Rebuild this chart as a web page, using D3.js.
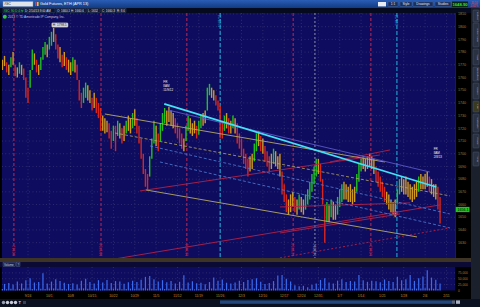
<!DOCTYPE html>
<html>
<head>
<meta charset="utf-8">
<script src="https://cdn.jsdelivr.net/npm/d3@7"></script>
<style>
html, body { margin: 0; padding: 0; background: #000; }
svg { display: block; font-family: "Liberation Sans", Arial, sans-serif; }
</style>
</head>
<body>
<div id="chart"></div>
<script>
// ---- data ----
// bars: two per trading day, first bar sits 6 trading days before 9/24
const barStartDay = -6;
const barStep = 0.5;
const hi = [
  1774,1777,1772,1770,1776,1780,1770,1768,1772,1770,
  1767,1760,1752,1766,1782,1779,1774,1770,1776,1784,
  1788,1786,1792,1796,1799,1794,1786,1784,1778,1780,
  1776,1774,1772,1776,1774,1770,1758,1748,1752,1756,
  1754,1750,1744,1748,1744,1740,1736,1730,1728,1726,
  1724,1718,1722,1722,1726,1724,1720,1722,1726,1730,
  1728,1732,1735,1728,1722,1712,1700,1688,1684,1698,
  1712,1726,1722,1716,1724,1732,1736,1734,1737,1734,
  1732,1728,1724,1720,1716,1712,1722,1730,1728,1724,
  1726,1722,1726,1730,1732,1734,1752,1755,1752,1750,
  1746,1742,1738,1726,1730,1732,1728,1726,1730,1728,
  1724,1716,1712,1704,1700,1696,1698,1700,1708,1716,
  1718,1714,1712,1706,1702,1698,1700,1704,1702,1698,
  1700,1686,1676,1668,1664,1668,1670,1666,1664,1668,
  1666,1664,1668,1672,1678,1684,1690,1696,1696,1692,
  1680,1660,1662,1660,1664,1662,1660,1666,1672,1676,
  1678,1676,1674,1676,1672,1674,1684,1692,1696,1698,
  1696,1698,1700,1698,1696,1690,1686,1682,1678,1674,
  1670,1668,1664,1662,1664,1672,1680,1682,1680,1682,
  1678,1676,1674,1676,1678,1682,1684,1682,1684,1686,
  1682,1680,1676,1676,1674,1666
];
const lo = [
  1766,1769,1764,1762,1768,1770,1761,1760,1763,1762,
  1758,1744,1740,1752,1766,1770,1764,1762,1766,1774,
  1778,1776,1782,1785,1788,1782,1775,1772,1768,1769,
  1766,1764,1762,1765,1764,1758,1742,1736,1740,1744,
  1742,1740,1734,1736,1732,1728,1718,1718,1716,1717,
  1712,1704,1710,1702,1714,1712,1708,1710,1716,1718,
  1716,1720,1722,1716,1708,1696,1684,1674,1671,1682,
  1696,1708,1706,1702,1710,1718,1724,1722,1725,1722,
  1720,1716,1712,1708,1704,1702,1710,1718,1716,1714,
  1716,1712,1715,1720,1722,1724,1734,1746,1744,1742,
  1738,1734,1712,1712,1718,1720,1716,1716,1720,1716,
  1708,1704,1698,1692,1688,1682,1686,1688,1694,1702,
  1706,1702,1700,1694,1690,1686,1688,1692,1690,1688,
  1682,1668,1662,1654,1652,1654,1658,1654,1652,1656,
  1654,1652,1656,1660,1664,1670,1676,1682,1684,1678,
  1660,1630,1646,1646,1650,1648,1648,1652,1658,1662,
  1664,1664,1662,1662,1660,1662,1670,1678,1686,1688,
  1686,1688,1690,1688,1684,1678,1674,1670,1666,1662,
  1660,1656,1654,1652,1650,1660,1668,1670,1668,1668,
  1666,1664,1662,1664,1666,1670,1672,1672,1672,1674,
  1670,1668,1666,1664,1656,1645
];
// volume per bar, thousands of contracts
const volume = [
  6,28,5,32,7,26,4,38,6,30,
  8,44,9,52,6,34,5,36,7,73,
  6,30,8,38,9,48,7,40,6,33,
  5,28,6,31,4,26,8,42,9,50,
  7,36,6,30,8,44,5,34,7,45,
  6,32,8,40,7,38,5,29,6,35,
  8,41,7,36,9,46,10,58,8,62,
  7,48,6,38,8,44,6,35,7,40,
  5,30,7,37,8,65,6,34,7,39,
  5,31,6,33,4,27,6,36,9,55,
  7,42,8,47,6,33,5,30,6,34,
  7,41,6,36,8,45,7,48,9,52,
  6,37,5,28,6,32,7,40,8,64,
  9,66,7,50,6,38,4,22,3,18,
  4,20,3,14,5,24,6,30,7,45,
  8,52,6,34,5,30,7,42,8,48,
  6,36,7,40,6,38,9,66,7,44,
  6,37,8,42,7,39,6,35,8,47,
  7,40,6,36,9,58,7,44,8,48,
  9,66,7,41,8,52,9,60,10,86,
  8,55,7,46,6,30
];
const priceTicks = [1810,1800,1790,1780,1770,1760,1750,1740,1730,1720,1710,1700,1690,1680,1670,1660,1650,1640,1630];
const volTicks = [75,50,25,0];
const xTickDays = [0,5,10,15,20,25,30,35,40,45,50,55,60,64,68,73,78,83,88,93,98];
const xTickLabels = ["9/24","10/1","10/8","10/15","10/22","10/29","11/5","11/12","11/19","11/26","12/3","12/10","12/17","12/24","12/31","1/7","1/14","1/21","1/28","2/4","2/11"];
const redEventDays = [-3.3, 17.1, 37.2, 62.1, 80.3];
const redEventLabels = ["9/19/12","10/17/12","11/14/12","12/19/12","1/16/13"];
const cyanEventDays = [45, 86.4];
const cyanEventLabels = ["11/26/12","1/24/13"];
const greyEventDays = [67.2];
const greyEventLabels = ["12/28/12"];
// drawn trend lines: [day1, price1, day2, price2]
const cyanLines = [[31.9, 1739.2, 95.6, 1673.8]];
const purpleLines = [[32.8, 1734.4, 94.1, 1685.6]];
const khakiLines = [[18.0, 1731.3, 83.6, 1693.5], [27.6, 1671.5, 91.1, 1634.5]];
const khakiDashed = [[20.4, 1716.3, 98.8, 1666.8]];
const blueDashed = [[28.6, 1706.1, 98.8, 1652.6], [30.9, 1693.5, 98.8, 1641.6]];
const redLines = [[20.4, 1617.2, 96.5, 1659.7], [26.2, 1670.7, 82.4, 1699.0], [59.0, 1658.1, 89.5, 1661.3], [59.0, 1637.6, 87.1, 1652.6], [70.7, 1693.5, 84.8, 1703.0]];
const redDashed = [[59.0, 1618.0, 98.8, 1641.6]];
const lastPrice = 1656.1;
const peakLabel = "H: 1798.5";
const notes = [
  {day: 31.7, price: 1756, lines: ["FR", "8AM", "11/9/12"]},
  {day: 95.0, price: 1703, lines: ["FR", "8AM", "2/8/13"]}
];

// ---- layout ----
const W = 480, H = 307;
const PX0 = 2, PX1 = 455, PY0 = 13, PY1 = 258;
const VY0 = 267, VY1 = 290.5;

const x = d3.scaleLinear().domain([-6.09, 100]).range([PX0, PX1]);
const y = d3.scaleLinear().domain([1618.7, 1810]).range([257, 14]);
const yv = d3.scaleLinear().domain([0, 100]).range([VY1, VY0]);

const bars = hi.map((h, i) => ({day: barStartDay + i * barStep, hi: h, lo: lo[i], vol: volume[i]}));
bars.forEach((b, i) => {
  const mid = (b.hi + b.lo) / 2;
  const prev = i ? (bars[i - 1].hi + bars[i - 1].lo) / 2 : mid;
  b.color = mid - prev > 3 ? "#1fc21f" : mid - prev < -3 ? "#d8261e" : "#d29a22";
});

const svg = d3.select("#chart").append("svg").attr("width", W).attr("height", H);
const defs = svg.append("defs");
const grad = defs.append("linearGradient").attr("id", "topbar").attr("x1", 0).attr("y1", 0).attr("x2", 0).attr("y2", 1);
grad.append("stop").attr("offset", "0%").attr("stop-color", "#2a5db5");
grad.append("stop").attr("offset", "100%").attr("stop-color", "#113b82");
defs.append("clipPath").attr("id", "plot-clip").append("rect")
  .attr("x", PX0).attr("y", PY0).attr("width", PX1 - PX0).attr("height", PY1 - PY0);

svg.append("rect").attr("width", W).attr("height", H).attr("fill", "#000");

// top toolbar
svg.append("rect").attr("width", W).attr("height", 8).attr("fill", "url(#topbar)");
svg.append("rect").attr("x", 3).attr("y", 1.5).attr("width", 30).attr("height", 5).attr("fill", "#dfe3ea").attr("stroke", "#7a8aa8").attr("stroke-width", 0.4);
svg.append("text").attr("x", 4.5).attr("y", 5.4).attr("font-size", 3.6).attr("fill", "#222").text("/GC");
svg.append("rect").attr("x", 35).attr("y", 2).attr("width", 1.6).attr("height", 4).attr("fill", "#e03a2a");
svg.append("rect").attr("x", 37).attr("y", 2).attr("width", 1.6).attr("height", 4).attr("fill", "#e8c030");
svg.append("text").attr("x", 40).attr("y", 5.4).attr("font-size", 3.8).attr("fill", "#fff").text("Gold Futures, ETH (APR 13)");
const btns = [[388, 10, "1:1"], [400, 12, "Style"], [413, 20, "Drawings"], [435, 16, "Studies"]];
btns.forEach(([bx, bw, t]) => {
  svg.append("rect").attr("x", bx).attr("y", 1.8).attr("width", bw).attr("height", 4.6).attr("rx", 0.6)
    .attr("fill", "#1a2f5c").attr("stroke", "#5d77a8").attr("stroke-width", 0.4);
  svg.append("text").attr("x", bx + bw / 2).attr("y", 5.2).attr("text-anchor", "middle").attr("font-size", 3.2).attr("fill", "#e4e8f0").text(t);
});
svg.append("rect").attr("x", 378).attr("y", 2).attr("width", 8).attr("height", 4.4).attr("fill", "#e8ecf2");
svg.append("rect").attr("x", 452).attr("y", 1.5).attr("width", 16).attr("height", 5.5).attr("fill", "#062a12");
svg.append("text").attr("x", 460).attr("y", 5.6).attr("text-anchor", "middle").attr("font-size", 4.2).attr("font-weight", "bold").attr("fill", "#39e03a").text("1648.90");
svg.append("text").attr("x", 474).attr("y", 3.6).attr("text-anchor", "middle").attr("font-size", 2.6).attr("fill", "#ff4a4a").text("-10.10");
svg.append("text").attr("x", 474).attr("y", 6.8).attr("text-anchor", "middle").attr("font-size", 2.6).attr("fill", "#ff4a4a").text("-0.61%");

// info row
svg.append("rect").attr("y", 8).attr("width", W).attr("height", 5).attr("fill", "#060a1e");
const info = [[3, 20, "/GC: 90 D 4 hr", "#3fe04a"], [24, 31, "D: 2/14/13 8:00 AM", "#e6e6ee"], [56, 13, "O: 1660.1", "#e6e6ee"],
  [70, 16, "H: 1660.6", "#e6e6ee"], [87, 13, "L: 1652", "#e6e6ee"], [101, 14, "C: 1660.3", "#e6e6ee"], [116, 10, "R: 8.6", "#e6e6ee"]];
info.forEach(([bx, bw, t, c]) => {
  svg.append("rect").attr("x", bx).attr("y", 8.6).attr("width", bw).attr("height", 4).attr("fill", "#0a1430").attr("stroke", "#3b5080").attr("stroke-width", 0.4);
  svg.append("text").attr("x", bx + 1).attr("y", 11.7).attr("font-size", 3).attr("fill", c).text(t);
});

// price pane
svg.append("rect").attr("x", PX0).attr("y", PY0).attr("width", PX1 - PX0).attr("height", PY1 - PY0).attr("fill", "#0e0c5e");
const grid = svg.append("g").attr("stroke", "#5c5c8c").attr("stroke-width", 0.5).attr("stroke-dasharray", "0.8,2.6");
grid.selectAll(".hg").data(priceTicks).join("line")
  .attr("x1", PX0).attr("x2", PX1).attr("y1", d => y(d)).attr("y2", d => y(d));
grid.selectAll(".vg").data(xTickDays).join("line")
  .attr("x1", d => x(d)).attr("x2", d => x(d)).attr("y1", PY0).attr("y2", PY1);

svg.append("circle").attr("cx", 4.8).attr("cy", 16.8).attr("r", 2).attr("fill", "#35c83a");
svg.append("text").attr("x", 8).attr("y", 18).attr("font-size", 3.2).attr("fill", "#c8c8dc").text("2013 © TD Ameritrade IP Company, Inc.");

const plotArea = svg.append("g").attr("clip-path", "url(#plot-clip)");

// event markers
function eventLines(days, labels, color, dash, atTop) {
  plotArea.selectAll(null).data(days).join("line")
    .attr("x1", d => x(d)).attr("x2", d => x(d)).attr("y1", PY0).attr("y2", PY1)
    .attr("stroke", color).attr("stroke-width", 1).attr("stroke-dasharray", dash);
  plotArea.selectAll(null).data(days).join("text")
    .attr("transform", d => `translate(${x(d) + 1.2},${atTop ? 15 : 256}) rotate(-90)`)
    .attr("text-anchor", atTop ? "end" : "start")
    .attr("font-size", 3.2).attr("fill", color).text((d, i) => labels[i]);
}
eventLines(redEventDays, redEventLabels, "#c4274e", "3,2", false);
eventLines(greyEventDays, greyEventLabels, "#8c90a8", "2,2", false);
eventLines(cyanEventDays, cyanEventLabels, "#22b6e0", "4,2", true);

// price bars
plotArea.selectAll(".bar").data(bars).join("line")
  .attr("x1", d => x(d.day)).attr("x2", d => x(d.day))
  .attr("y1", d => y(d.hi)).attr("y2", d => y(d.lo))
  .attr("stroke", d => d.color).attr("stroke-width", 1.4);

// trend lines
function trend(set, color, width, dash) {
  plotArea.selectAll(null).data(set).join("line")
    .attr("x1", d => x(d[0])).attr("y1", d => y(d[1])).attr("x2", d => x(d[2])).attr("y2", d => y(d[3]))
    .attr("stroke", color).attr("stroke-width", width).attr("stroke-dasharray", dash);
}
trend(redLines, "#b42046", 0.9, null);
trend(redDashed, "#b42046", 0.9, "2,2");
trend(blueDashed, "#4f7fd8", 0.8, "3,2");
trend(khakiDashed, "#b6a864", 0.8, "3,2");
trend(khakiLines, "#b6a864", 0.9, null);
trend(purpleLines, "#5a58c8", 0.9, null);
trend(cyanLines, "#44e0f4", 1.8, null);

// notes
notes.forEach(n => {
  plotArea.append("text").attr("x", x(n.day)).attr("y", y(n.price)).attr("font-size", 3).attr("fill", "#f0f0f0")
    .selectAll("tspan").data(n.lines).join("tspan").attr("x", x(n.day)).attr("dy", (d, i) => i ? 4 : 0).text(d => d);
});

// peak tooltip
const peak = bars.reduce((a, b) => (b.hi > a.hi ? b : a));
svg.append("rect").attr("x", x(peak.day) - 2).attr("y", y(peak.hi) - 5.2).attr("width", 16.5).attr("height", 4.6).attr("rx", 1)
  .attr("fill", "#d8d8de").attr("stroke", "#888").attr("stroke-width", 0.3);
svg.append("text").attr("x", x(peak.day) - 0.8).attr("y", y(peak.hi) - 1.7).attr("font-size", 3.2).attr("fill", "#222").text(peakLabel);

// price axis
svg.selectAll(".pt").data(priceTicks).join("text")
  .attr("x", 458).attr("y", d => y(d) + 1.2).attr("font-size", 3.6).attr("fill", "#b0793a").text(d => d);
svg.append("rect").attr("x", 455.5).attr("y", y(lastPrice) - 2.6).attr("width", 14).attr("height", 5.2).attr("fill", "#1ec81e");
svg.append("text").attr("x", 457.5).attr("y", y(lastPrice) + 1.3).attr("font-size", 3.6).attr("fill", "#000").text(lastPrice.toFixed(1));
svg.append("rect").attr("x", 455).attr("y", PY0).attr("width", 0.6).attr("height", PY1 - PY0).attr("fill", "#343450");

// right side panel
svg.append("rect").attr("x", 471).attr("y", 8).attr("width", 9).attr("height", 291).attr("fill", "#1a202c");
const tabs = [[10, 12, "Buttons"], [23, 24, "Active Trader"], [49, 16, "Trade"], [67, 14, "Big Buttons"], [83, 16, "Level II"], [101, 11, "Live"], [114, 18, "Watchlists"], [134, 14, "Phase"], [152, 14, "Times"]];
tabs.forEach(([ty, th, t], i) => {
  svg.append("rect").attr("x", 473).attr("y", ty).attr("width", 6).attr("height", th).attr("rx", 0.8)
    .attr("fill", t === "Live" ? "#3a3a22" : "#2a3242").attr("stroke", "#58627a").attr("stroke-width", 0.4);
  svg.append("text").attr("transform", `translate(477.2,${ty + th / 2}) rotate(90)`).attr("text-anchor", "middle")
    .attr("font-size", 2.4).attr("fill", t === "Live" ? "#e8d040" : "#b8c0d0").text(t);
});

// splitter and volume header
svg.append("rect").attr("x", 0).attr("y", PY1).attr("width", 471).attr("height", 4).attr("fill", "#3d3426");
svg.append("rect").attr("x", 0).attr("y", PY1 + 4).attr("width", 471).attr("height", VY0 - PY1 - 4).attr("fill", "#0a0a34");
svg.append("rect").attr("x", 3).attr("y", 262.7).attr("width", 12.5).attr("height", 3.8).attr("fill", "#1c2244").attr("stroke", "#5a6aa0").attr("stroke-width", 0.4);
svg.append("text").attr("x", 4).attr("y", 265.7).attr("font-size", 2.9).attr("fill", "#d0d4e4").text("Volume");
svg.append("rect").attr("x", 16.5).attr("y", 262.7).attr("width", 3.5).attr("height", 3.8).attr("fill", "#1c2244").attr("stroke", "#5a6aa0").attr("stroke-width", 0.4);
svg.append("text").attr("x", 17.4).attr("y", 265.7).attr("font-size", 2.9).attr("fill", "#d0d4e4").text("?");

// volume pane
svg.append("rect").attr("x", PX0).attr("y", VY0).attr("width", PX1 - PX0).attr("height", VY1 - VY0).attr("fill", "#0e0c5e");
const vgrid = svg.append("g").attr("stroke", "#5c5c8c").attr("stroke-width", 0.5).attr("stroke-dasharray", "0.8,2.6");
vgrid.selectAll(null).data(volTicks.filter(d => d > 0)).join("line")
  .attr("x1", PX0).attr("x2", PX1).attr("y1", d => yv(d)).attr("y2", d => yv(d));
vgrid.selectAll(null).data(xTickDays).join("line")
  .attr("x1", d => x(d)).attr("x2", d => x(d)).attr("y1", VY0).attr("y2", VY1);
svg.append("g").selectAll("line").data(bars).join("line")
  .attr("x1", d => x(d.day)).attr("x2", d => x(d.day))
  .attr("y1", yv(0)).attr("y2", d => yv(d.vol))
  .attr("stroke", "#3a6cf2").attr("stroke-width", 1.2);
svg.selectAll(".vt").data(volTicks).join("text")
  .attr("x", 458).attr("y", d => yv(d) + 1.1).attr("font-size", 3.2).attr("fill", "#b0793a")
  .text(d => d3.format(",")(d * 1000));

// time axis
svg.selectAll(".xt").data(xTickDays).join("text")
  .attr("x", d => x(d)).attr("y", 296.5).attr("text-anchor", "middle").attr("font-size", 3.4).attr("fill", "#c98d34")
  .text((d, i) => xTickLabels[i]);

// bottom toolbar
svg.append("rect").attr("x", 0).attr("y", 299).attr("width", W).attr("height", 8).attr("fill", "#0b1120");
[3.5, 7.5, 11.5, 15.5].forEach((cx, i) => {
  svg.append("circle").attr("cx", cx).attr("cy", 302.5).attr("r", 1.7).attr("fill", i === 0 ? "#9aa2b4" : "#c8ccd8");
});
svg.append("text").attr("x", 18.5).attr("y", 304).attr("font-size", 4).attr("font-weight", "bold").attr("fill", "#d8dce6").text("T");
svg.append("rect").attr("x", 23).attr("y", 301).attr("width", 3).attr("height", 3).attr("fill", "#3a4256");
svg.append("rect").attr("x", 220).attr("y", 300.4).attr("width", 232).attr("height", 3.4).attr("fill", "#22487e");
svg.append("rect").attr("x", 452).attr("y", 300.4).attr("width", 3).attr("height", 3.4).attr("fill", "#5a6478");
svg.append("rect").attr("x", 456).attr("y", 300.4).attr("width", 4).attr("height", 3.4).attr("fill", "#aab2c4");
</script>
</body>
</html>
